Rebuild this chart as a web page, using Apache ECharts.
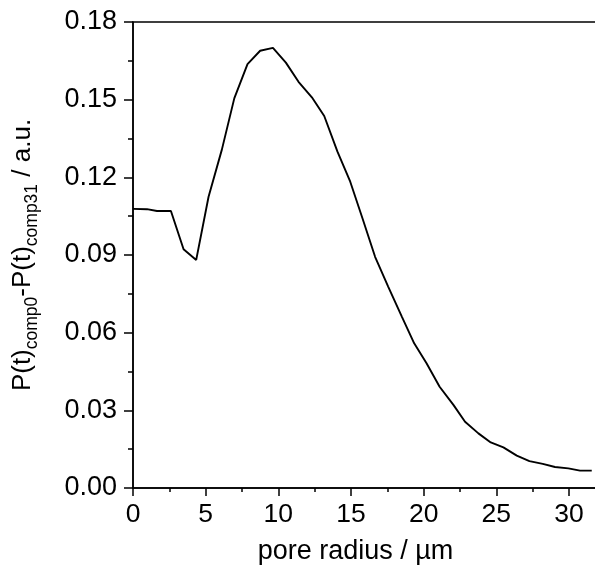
<!DOCTYPE html>
<html>
<head>
<meta charset="utf-8" />
<title>pore radius</title>
<style>
  html, body { margin: 0; padding: 0; overflow: hidden; background: #fff; }
  #chart { width: 600px; height: 579px; }
</style>
</head>
<body>
<div id="chart"></div>
<script src="https://cdn.jsdelivr.net/npm/echarts@6/dist/echarts.min.js"></script>
<script>
  // pore radius (µm)
  const radius = [0, 0.96, 1.65, 2.61, 3.48, 4.35, 5.2, 6.12, 6.97, 7.88, 8.75, 9.63,
    10.52, 11.39, 12.31, 13.16, 14.07, 14.95, 15.79, 16.66, 17.56, 18.5, 19.35, 20.2,
    21.1, 22.05, 22.85, 23.77, 24.62, 25.49, 26.41, 27.28, 28.2, 29.04, 29.96, 30.76, 31.57];
  // P(t)comp0 - P(t)comp31
  const diff = [0.1078, 0.1077, 0.1070, 0.1070, 0.0922, 0.0881, 0.1125, 0.1308, 0.1505, 0.1637,
    0.1689, 0.1700, 0.1643, 0.1569, 0.1509, 0.1437, 0.1299, 0.1183, 0.1042, 0.0893, 0.0778,
    0.0662, 0.0559, 0.0482, 0.0391, 0.0321, 0.0256, 0.0211, 0.0176, 0.0157, 0.0125, 0.0104,
    0.0093, 0.0081, 0.0076, 0.0067, 0.0067];

  const font = '"Liberation Sans", Arial, sans-serif';
  const chart = echarts.init(document.getElementById('chart'));
  chart.setOption({
    animation: false,
    grid: {
      left: 133, top: 22, right: 2, bottom: 91,
      show: true, borderColor: '#000', borderWidth: 1.5
    },
    xAxis: {
      type: 'value', min: 0, max: 32, interval: 5,
      name: 'pore radius / µm',
      nameLocation: 'middle', nameGap: 50,
      nameTextStyle: { fontSize: 27, fontFamily: font, color: '#000', padding: [0, 20, 0, 0] },
      axisLine: { lineStyle: { color: '#000', width: 1.5 } },
      axisTick: { length: 8, lineStyle: { color: '#000', width: 1.5 } },
      minorTick: { show: true, splitNumber: 2, length: 4, lineStyle: { color: '#000', width: 1.5 } },
      axisLabel: { fontSize: 26.5, fontFamily: font, color: '#000', margin: 13, showMaxLabel: false },
      splitLine: { show: false }
    },
    yAxis: {
      type: 'value', min: 0, max: 0.18, interval: 0.03,
      name: '{m|P(t)}{s|comp0}{m|-P(t)}{s|comp31}{m| / a.u.}',
      nameLocation: 'middle', nameGap: 92, nameRotate: 90,
      nameTextStyle: {
        fontFamily: font, color: '#000',
        rich: {
          m: { fontSize: 26, fontFamily: font, color: '#000', lineHeight: 36 },
          s: { fontSize: 17.5, fontFamily: font, color: '#000', lineHeight: 17, verticalAlign: 'bottom' }
        }
      },
      axisLine: { lineStyle: { color: '#000', width: 1.5 } },
      axisTick: { length: 9, lineStyle: { color: '#000', width: 1.5 } },
      minorTick: { show: true, splitNumber: 2, length: 5, lineStyle: { color: '#000', width: 1.5 } },
      axisLabel: {
        fontSize: 27, fontFamily: font, color: '#000', margin: 16,
        formatter: v => v.toFixed(2)
      },
      splitLine: { show: false }
    },
    series: [{
      type: 'line',
      data: radius.map((r, i) => [r, diff[i]]),
      showSymbol: false,
      lineStyle: { color: '#000', width: 1.9 }
    }]
  });
</script>
</body>
</html>
